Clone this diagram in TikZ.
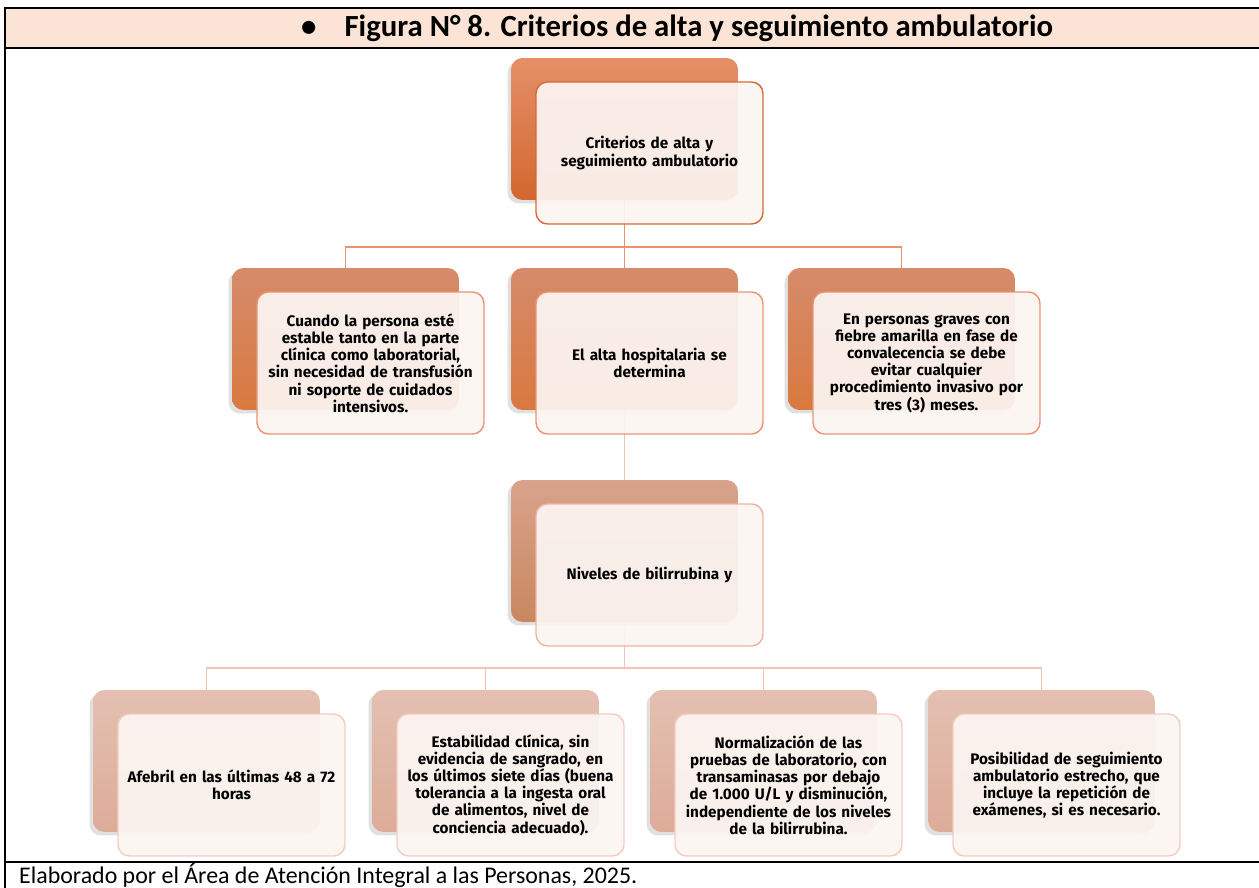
\documentclass[tikz,border=0pt]{standalone}
\usepackage{fontspec}
\setmainfont{Carlito}
\newfontfamily\boxfont{Fira Sans}
\usetikzlibrary{positioning,shadows,backgrounds}

\definecolor{bandfill}{HTML}{FBE4D5}
\definecolor{frontfill}{HTML}{FCF5F2}
\definecolor{topA}{HTML}{E58F68}
\definecolor{botA}{HTML}{D2672F}
\definecolor{lineA}{HTML}{D4693A}
\definecolor{topB}{HTML}{D68B6B}
\definecolor{botB}{HTML}{D8793F}
\definecolor{lineB}{HTML}{EC9373}
\definecolor{topC}{HTML}{D8A38B}
\definecolor{botC}{HTML}{C98760}
\definecolor{lineC}{HTML}{F0B4A2}
\definecolor{topD}{HTML}{E4C0B2}
\definecolor{botD}{HTML}{DCAC98}
\definecolor{lineD}{HTML}{F5CCC0}
\definecolor{linkdark}{HTML}{EC906E}
\definecolor{linklight}{HTML}{F3C2B3}

\tikzset{
  back/.style 2 args={rectangle, rounded corners=6.5pt, minimum width=4.54cm, minimum height=2.84cm,
              top color=#1, bottom color=#2, draw=none,
              drop shadow={shadow xshift=-2pt, shadow yshift=-2pt, opacity=.2, fill=black!60}},
  front/.style={rectangle, rounded corners=6.5pt, draw=#1, line width=0.8pt, fill=frontfill,
              fill opacity=.93, text opacity=1, minimum width=4.54cm, minimum height=2.84cm,
              text width=4.4cm, inner sep=0pt, align=center,
              font=\boxfont\bfseries\fontsize{8.7}{9.8}\selectfont},
  link/.style={draw=#1, line width=1.1pt},
  frame/.style={line width=1.1pt, black},
}

\begin{document}
\begin{tikzpicture}[x=0.02cm, y=-0.02cm]
\useasboundingbox (0,0) rectangle (1259,888);
% table frame
\fill[bandfill] (5,8) rectangle (1259,48);
\draw[frame] (1259,8) -- (5,8) -- (5,888);
\draw[frame] (5,48) -- (1259,48);
\draw[frame] (5,862) -- (1259,862);
\node[anchor=west, font=\bfseries\fontsize{17.5}{20}\selectfont] (title) at (295,28)
  {\textbullet\hspace{16pt}Figura N° 8. Criterios de alta y seguimiento ambulatorio};
\node[anchor=west, font=\fontsize{13.6}{16}\selectfont] (source) at (13,876)
  {Elaborado por el Área de Atención Integral a las Personas, 2025.};

% level 1
\node[back={topA}{botA}] (crit) at (624.5,129) {};
\node[front=lineA] (critT) at ([shift={(25,24)}]crit.center) {Criterios de alta y\\seguimiento ambulatorio};

% level 2
\node[back={topB}{botB}] (stable) at (345.5,339) {};
\node[front=lineB] (stableT) at ([shift={(25,24)}]stable.center)
  {Cuando la persona esté\\estable tanto en la parte\\clínica como laboratorial,\\sin necesidad de transfusión\\ni soporte de cuidados\\intensivos.};
\node[back={topB}{botB}] (alta) at (624.5,339) {};
\node[front=lineB] (altaT) at ([shift={(25,24)}]alta.center) {El alta hospitalaria se\\determina};
\node[back={topB}{botB}] (graves) at (901.5,339) {};
\node[front=lineB] (gravesT) at ([shift={(25,24)}]graves.center)
  {En personas graves con\\fiebre amarilla en fase de\\convalecencia se debe\\evitar cualquier\\procedimiento invasivo por\\tres (3) meses.};

% level 3
\node[back={topC}{botC}] (bili) at (624.5,551) {};
\node[front=lineC] (biliT) at ([shift={(25,24)}]bili.center) {Niveles de bilirrubina y};

% level 4
\node[back={topD}{botD}] (afebril) at (206.5,761) {};
\node[front=lineD] (afebrilT) at ([shift={(25,24)}]afebril.center) {Afebril en las últimas 48 a 72\\horas};
\node[back={topD}{botD}] (estab) at (485.5,761) {};
\node[front=lineD] (estabT) at ([shift={(25,24)}]estab.center)
  {Estabilidad clínica, sin\\evidencia de sangrado, en\\los últimos siete días (buena\\tolerancia a la ingesta oral\\de alimentos, nivel de\\conciencia adecuado).};
\node[back={topD}{botD}] (normal) at (763.5,761) {};
\node[front=lineD] (normalT) at ([shift={(25,24)}]normal.center)
  {Normalización de las\\pruebas de laboratorio, con\\transaminasas por debajo\\de 1.000 U/L y disminución,\\independiente de los niveles\\de la bilirrubina.};
\node[back={topD}{botD}] (ambul) at (1041.5,761) {};
\node[front=lineD] (ambulT) at ([shift={(25,24)}]ambul.center)
  {Posibilidad de seguimiento\\ambulatorio estrecho, que\\incluye la repetición de\\exámenes, si es necesario.};

% connectors
\begin{scope}[on background layer]
\coordinate (fork1) at (624.5,247);
\draw[link=linkdark] (crit.south) -- (fork1);
\draw[link=linkdark] (stable.north) |- (fork1) -| (graves.north);
\draw[link=linkdark] (fork1) -- (alta.north);
\draw[link=linklight] (alta.south) -- (bili.north);
\coordinate (fork2) at (624.5,668);
\draw[link=linklight] (bili.south) -- (fork2);
\draw[link=linklight] (afebril.north) |- (fork2) -| (ambul.north);
\draw[link=linklight] (estab.north) |- (fork2);
\draw[link=linklight] (normal.north) |- (fork2);
\end{scope}
\end{tikzpicture}
\end{document}
